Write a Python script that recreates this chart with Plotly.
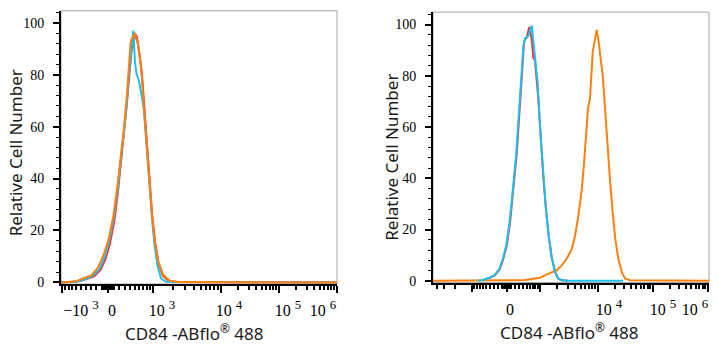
import numpy as np
import plotly.graph_objects as go

# ---------------- data (x in display-scale channel units 0..276, y = relative cell number) -------------
left_red_x = [0, 16, 25, 33, 39.5, 44.5, 49, 53.5, 57, 60.3, 63.5, 66.2, 68.8, 70.5, 72, 73.5, 74.5, 76, 77.5,
              79.2, 81, 83.3, 86, 88.7, 91.3, 94.3, 97.5, 102, 108, 118, 276]
left_red_y = [0, 0.3, 1.2, 2.3, 4.8, 9, 15, 24, 35, 47, 59, 70.5, 82, 89, 92, 94, 95.5, 94.5, 91,
              86, 80, 67, 52, 38, 25.5, 15, 7.5, 2.5, 0.5, 0.1, 0]
left_cyan_x = [0, 17, 25, 32, 38.5, 43.5, 48, 52.8, 56.8, 60.2, 63.5, 65.7, 67.5, 69, 70.5, 72.3, 74, 75.7,
               77.5, 79, 80.7, 83, 85.7, 88.3, 91, 93.5, 96.5, 100, 105, 276]
left_cyan_y = [0, 0.3, 1.3, 2.6, 5.2, 9.5, 15.5, 25, 36, 47.5, 59, 68, 78.5, 84, 88.6, 97, 84.8, 80,
               78.5, 76, 72, 66, 51, 37, 24.5, 14.5, 6.5, 1.5, 0.2, 0]
left_orange_x = [0, 14, 22.3, 30.7, 37.3, 42.3, 47.3, 52.3, 56.3, 59.7, 63, 65.7, 68.3, 69.5, 70.7, 72.3, 74,
                 75.5, 77.3, 79, 80.7, 83, 85.7, 88.3, 91, 94, 97.3, 102.3, 109, 119, 276]
left_orange_y = [0, 0.3, 1.5, 2.8, 5.9, 10.3, 16, 25.5, 36.9, 48, 59.6, 71, 83.6, 92, 93.9, 94.5, 96.2,
                 94, 91, 86, 80, 67, 52, 38, 25.5, 15.4, 7.8, 2.8, 0.6, 0.1, 0]

right_red_x = [50.3, 57, 62, 67, 70.3, 73.7, 77, 80.3, 83.7, 86.3, 88.7, 91, 92, 93.7, 96.3, 98.7, 100.3,
               102, 105.3, 107.7, 110.3, 113, 115.7, 118.7, 122, 125.3, 128.7, 135]
right_red_y = [0.3, 1.2, 2.2, 4.7, 8.6, 13.7, 22.6, 35.4, 49.5, 64.8, 80.2, 93, 94.2, 94.9, 99.1, 94.2, 87.2,
               86, 71, 55.9, 40.5, 27.8, 17.5, 9.2, 3.5, 0.9, 0.2, 0]
right_cyan_x = [45, 49.8, 56.5, 61.5, 66.5, 69.8, 73.2, 76.5, 79.8, 83.2, 85.8, 88.2, 90.5, 92, 95.3, 98.7,
                100.3, 102.7, 104.5, 107.7, 110.3, 113, 115.7, 118.7, 122, 125.3, 128.7, 135, 190]
right_cyan_y = [0, 0.3, 1.2, 2.2, 4.7, 8.6, 13.7, 22.6, 35.4, 49.5, 64.8, 80.2, 92, 94.6, 95.5, 99.6,
                94.2, 86.6, 78, 56, 40.5, 27.8, 17.5, 9.2, 3.5, 0.9, 0.2, 0, 0]
right_orange_x = [0, 92, 98.7, 107, 113.7, 118.7, 123.7, 128.7, 133.7, 138.7, 142, 145.3, 148.7, 151, 153.7,
                  155, 157, 158.7, 159.7, 162, 163.7, 165.3, 167.7, 169.7, 172, 174.3, 177, 179.7, 182.3,
                  185.3, 188.7, 192, 197, 276]
right_orange_y = [0, 0.3, 0.7, 1.2, 2.5, 3.2, 4.1, 6.0, 8.6, 12.4, 17.5, 25.2, 35.4, 45.6, 58.4,
                  67.4, 71.2, 81.5, 89.2, 94.3, 97.9, 94.3, 86.6, 80.2, 67.4, 53.3, 39.3, 26.5, 16.3,
                  8.6, 3.5, 0.9, 0.2, 0]

major_vals = [-1000, 0, 1000, 1e4, 1e5, 1e6]
left_label_vals = [-1000, 0, 1000, 1e4, 1e5, 1e6]
left_label_text = ["\u221210 <sup><span style='font-size:13px'>3</span></sup>", "0",
                   "10 <sup><span style='font-size:13px'>3</span></sup>",
                   "10 <sup><span style='font-size:13px'>4</span></sup>",
                   "10 <sup><span style='font-size:13px'>5</span></sup>",
                   "10 <sup><span style='font-size:13px'>6</span></sup>"]
right_label_vals = [0, 1e4, 1e5, 1e6]
right_label_text = ["0", "10 <sup><span style='font-size:13px'>4</span></sup>",
                    "10 <sup><span style='font-size:13px'>5</span></sup>",
                    "10 <sup><span style='font-size:13px'>6</span></sup>"]
y_ticks = [0, 20, 40, 60, 80, 100]

RED, CYAN, ORANGE = "#f5333a", "#19c1ee", "#ff7f0f"
SERIF = "Liberation Serif"
SANS = "Noto Sans"
CH_MAX = 276


def make_scale(p_m1k, p0, p_1k, p_1e4, p_1e5, p_1e6, c=600.0):
    anchors = {3: p_1k, 4: p_1e4, 5: p_1e5, 6: p_1e6}

    def f(v):
        if abs(v) <= 1000:
            s = np.arcsinh(abs(v) / c) / np.arcsinh(1000 / c)
            return p0 + s * (p_1k - p0) if v >= 0 else p0 - s * (p0 - p_m1k)
        if v > 0:
            lg = np.log10(v)
            d = min(int(np.floor(lg)), 5)
            return anchors[d] + (anchors[d + 1] - anchors[d]) * (lg - d)
        lg = np.log10(-v)
        return p_m1k - (p_1e4 - p_1k) * (lg - 3)
    return f


minor_vals = ([-k * 100 for k in range(1, 10)] + [-k * 10 for k in range(1, 10)] +
              [k * 10 for k in range(1, 10)] + [k * 100 for k in range(1, 10)] +
              [k * 10 ** d for d in (3, 4, 5) for k in range(2, 10)] +
              [-k * 1000 for k in range(2, 10)])

scale_left = make_scale(1, 47, 92, 160, 218, 276)
scale_right = make_scale(39, 74, 107, 165, 220, 275)


def positions(f, vals):
    out = [float(f(v)) for v in vals]
    return [p for p in out if -0.5 <= p <= CH_MAX + 0.5]


fig = go.Figure()
line = lambda col: dict(color=col, width=2)
fig.add_trace(go.Scatter(x=left_red_x, y=left_red_y, mode="lines", line=line(RED), xaxis="x", yaxis="y"))
fig.add_trace(go.Scatter(x=left_cyan_x, y=left_cyan_y, mode="lines", line=line(CYAN), xaxis="x", yaxis="y"))
fig.add_trace(go.Scatter(x=left_orange_x, y=left_orange_y, mode="lines", line=line(ORANGE), xaxis="x", yaxis="y"))
fig.add_trace(go.Scatter(x=right_red_x, y=right_red_y, mode="lines", line=line(RED), xaxis="x2", yaxis="y2"))
fig.add_trace(go.Scatter(x=right_orange_x, y=right_orange_y, mode="lines", line=line(ORANGE), xaxis="x2", yaxis="y2"))
fig.add_trace(go.Scatter(x=right_cyan_x, y=right_cyan_y, mode="lines", line=line(CYAN), xaxis="x2", yaxis="y2"))
# empty traces so the overlaid label axes are registered and drawn
fig.add_trace(go.Scatter(x=[], y=[], mode="lines", xaxis="x3", yaxis="y", hoverinfo="skip"))
fig.add_trace(go.Scatter(x=[], y=[], mode="lines", xaxis="x4", yaxis="y2", hoverinfo="skip"))

W, H = 719, 350
xl_dom = [61 / W, 337 / W]
xr_dom = [433 / W, 709 / W]
yl_dom = [1 - 289 / H, 1 - 11 / H]
yr_dom = [1 - 287.5 / H, 1 - 12.3 / H]


def xaxis_main(f, dom, anchor):
    return dict(domain=dom, anchor=anchor, range=[0, CH_MAX], showline=True, linecolor="black", linewidth=2,
                showgrid=False, zeroline=False, ticks="outside", ticklen=7, tickwidth=2, tickcolor="black",
                tickmode="array", tickvals=positions(f, major_vals), showticklabels=False,
                minor=dict(tickmode="array", tickvals=positions(f, minor_vals), ticks="outside",
                           ticklen=4, tickwidth=1.5, tickcolor="black"))


def xaxis_labels(f, vals, text, shifts, over, anchor):
    return dict(overlaying=over, anchor=anchor, side="bottom", range=[0, CH_MAX], showline=False,
                showgrid=False, zeroline=False, ticks="", tickmode="array",
                tickvals=[float(f(v)) + s for v, s in zip(vals, shifts)], ticktext=text,
                tickfont=dict(family=SERIF, size=16, color="black"), ticklabelstandoff=15)


def yaxis(dom, rng, anchor):
    return dict(domain=dom, anchor=anchor, range=rng, showline=True, linecolor="black", linewidth=2,
                showgrid=False, zeroline=False, ticks="outside", ticklen=6, tickwidth=1.5, tickcolor="black",
                tickmode="array", tickvals=y_ticks, tickfont=dict(family=SERIF, size=14, color="black"),
                ticklabelstandoff=6,
                minor=dict(dtick=4, ticks="outside", ticklen=3, tickwidth=1, tickcolor="black"))


fig.update_layout(
    width=W, height=H, margin=dict(l=0, r=0, t=0, b=0), showlegend=False,
    paper_bgcolor="white", plot_bgcolor="white",
    xaxis=xaxis_main(scale_left, xl_dom, "y"),
    xaxis2=xaxis_main(scale_right, xr_dom, "y2"),
    xaxis3=xaxis_labels(scale_left, left_label_vals, left_label_text, [19, 4, 9, 8, 9, -14], "x", "y"),
    xaxis4=xaxis_labels(scale_right, right_label_vals, right_label_text, [3, 11, 10, -13], "x2", "y2"),
    yaxis=yaxis(yl_dom, [-0.64, 104.66], "x"),
    yaxis2=yaxis(yr_dom, [-0.69, 104.87], "x2"),
)

for xr, yr in (("x domain", "y domain"), ("x2 domain", "y2 domain")):
    fig.add_shape(type="rect", xref=xr, yref=yr, x0=0, x1=1, y0=0, y1=1, layer="below",
                  line=dict(color="#a6a6a6", width=1))

title_font = dict(family=SANS, size=17, color="#1a1a1a")
for (px, py) in ((15.5, 155.5), (391.5, 160)):
    fig.add_annotation(text="Relative Cell Number", xref="paper", yref="paper", x=px / W, y=1 - py / H,
                       textangle=-90, showarrow=False, font=title_font, xanchor="center", yanchor="middle")
for (px, py) in ((193.5, 338), (569, 337)):
    fig.add_annotation(text="CD84 -ABflo<sup>®</sup> 488", xref="paper", yref="paper", x=px / W, y=1 - py / H,
                       showarrow=False, font=title_font, xanchor="center", yanchor="middle")

fig.write_html("out.html")
